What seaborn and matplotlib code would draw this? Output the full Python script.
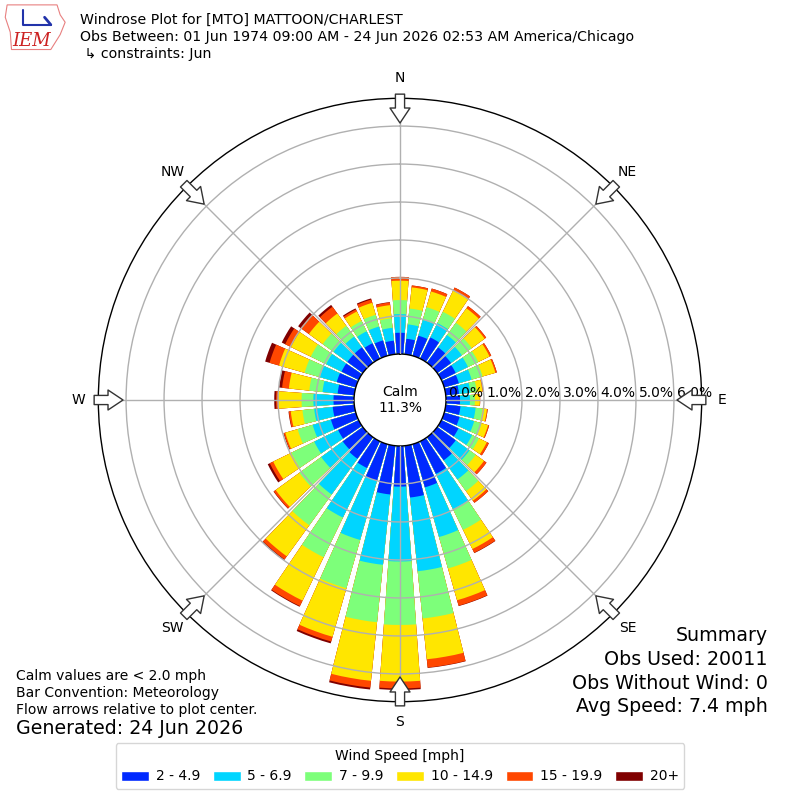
import numpy as np
import pandas as pd
import matplotlib
matplotlib.use('Agg')
import matplotlib.pyplot as plt
from matplotlib.patches import Patch, Polygon
import seaborn as sns

# direction the wind blows from (deg), one bar every 10 deg
directions = np.arange(0, 360, 10)
speed_bins = ['2 - 4.9', '5 - 6.9', '7 - 9.9', '10 - 14.9', '15 - 19.9', '20+']
# percent of observations per direction for each speed class
pct_2 = [.56, .41, .55, .62, .50, .45, .42, .40, .35, .37, .39, .42, .50, .60, .75, .95, 1.18, 1.37,
         1.07, 1.29, 1.00, .78, .70, .65, .60, .68, .57, .54, .44, .52, .50, .50, .50, .45, .42, .36]
pct_5 = [.49, .38, .43, .42, .40, .35, .36, .35, .30, .26, .40, .40, .40, .45, .62, 1.03, 1.36, 1.95,
         1.97, 1.86, 1.62, 1.45, 1.16, .70, .70, .50, .49, .53, .40, .46, .45, .45, .35, .35, .38, .34]
pct_7 = [.37, .42, .35, .33, .40, .32, .30, .30, .17, .13, .18, .20, .20, .20, .38, .61, .86, 1.25,
         1.67, 1.52, 1.32, 1.16, 1.00, .71, .67, .41, .31, .31, .35, .42, .45, .35, .35, .30, .32, .25]
pct_10 = [.51, .56, .43, .62, .47, .42, .33, .35, .15, .13, .12, .18, .23, .27, .31, .56, .87, 1.08,
          1.49, 1.55, 1.33, 1.27, 1.01, .77, .53, .34, .31, .61, .54, .70, .58, .45, .40, .28, .33, .35]
pct_15 = [.10, .05, .08, .09, .07, .05, .05, .04, .02, .01, .02, .03, .06, .08, .07, .11, .15, .22,
          .18, .18, .13, .16, .10, .06, .10, .04, .05, .06, .18, .26, .17, .27, .22, .06, .09, .07]
pct_20 = [0, 0, 0, 0, 0, 0, 0, 0, 0, 0, 0, 0, 0, 0, 0, .01, .01, .01,
          .04, .05, .05, .02, .02, .01, .06, .01, .01, .05, .08, .12, .10, .08, .06, .03, .03, .01]
calm_pct = 11.3
compass = ['N', 'NE', 'E', 'SE', 'S', 'SW', 'W', 'NW']
rlabels = ['0.0%', '1.0%', '2.0%', '3.0%', '4.0%', '5.0%', '6.0%']

df = pd.DataFrame({'dir': directions})
for name, vals in zip(speed_bins, [pct_2, pct_5, pct_7, pct_10, pct_15, pct_20]):
    df[name] = vals
df['theta'] = np.deg2rad(df['dir'])
cum = df[speed_bins].cumsum(axis=1)

colors = plt.cm.jet(np.linspace(0, 1, 7))[1:]

sns.set_style('white')
plt.rcParams.update({'text.color': 'black', 'xtick.color': 'black', 'ytick.color': 'black',
                     'axes.labelcolor': 'black'})
fig = plt.figure(figsize=(8, 8), dpi=100)
ax = fig.add_axes([0.1229, 0.1229, 0.7542, 0.7542], projection='polar')
ax.set_theta_zero_location('N')
ax.set_theta_direction(-1)

# stacked look: draw cumulative totals from the outside in
for i in range(5, -1, -1):
    sns.barplot(x=df['theta'], y=cum[speed_bins[i]], native_scale=True, orient='x',
                color=colors[i], saturation=1, width=0.82, errorbar=None,
                linewidth=0, ax=ax)

ax.set_xlabel('')
ax.set_ylabel('')
ax.set_xlim(0, 2 * np.pi)
ax.set_rorigin(-1.21)
ax.set_ylim(0, 6.73)
ax.set_yticks([1, 2, 3, 4, 5, 6])
ax.set_yticklabels([])
ax.set_xticks(np.deg2rad(np.arange(0, 360, 45)))
ax.set_xticklabels(compass, fontsize=10, color='black')
ax.tick_params(axis='x', pad=4)
ax.grid(True, color='#b0b0b0', lw=1)
ax.set_axisbelow(False)
ax.spines['polar'].set_color('black')
ax.spines['polar'].set_linewidth(1)
ax.spines['inner'].set_visible(True)
ax.spines['inner'].set_color('black')
ax.spines['inner'].set_linewidth(1)

for k, lab in enumerate(rlabels):
    ax.text(np.pi / 2, k + 0.53, lab, ha='center', va='bottom', fontsize=10, zorder=6)

for ang in np.deg2rad(np.arange(0, 360, 45)):
    ax.annotate('', xy=(ang, 6.08), xytext=(ang, 6.84), annotation_clip=False, zorder=7,
                arrowprops=dict(arrowstyle='simple,head_length=0.9,head_width=1.2,tail_width=0.55',
                                fc='white', ec='#333333', lw=1, mutation_scale=12,
                                shrinkA=0, shrinkB=0, clip_on=False))

fig.text(0.5, 0.5, 'Calm\n%.1f%%' % calm_pct, ha='center', va='center', fontsize=10)

# header
fig.text(0.1, 0.975, 'Windrose Plot for [MTO] MATTOON/CHARLEST', fontsize=10.2, va='center')
fig.text(0.1, 0.954, 'Obs Between: 01 Jun 1974 09:00 AM - 24 Jun 2026 02:53 AM America/Chicago',
         fontsize=10.2, va='center')
fig.text(0.1, 0.9325, ' \u21b3 constraints: Jun', fontsize=10.2, va='center')

# rough IEM logo
lax = fig.add_axes([0.005, 0.935, 0.078, 0.062])
lax.set_xlim(0, 1)
lax.set_ylim(0, 1)
lax.axis('off')
lax.add_patch(Polygon([[0.05, 0.95], [0.85, 0.95], [0.9, 0.75], [0.98, 0.6], [0.9, 0.35],
                       [0.8, 0.15], [0.75, 0.05], [0.12, 0.05], [0.1, 0.4], [0.02, 0.7]],
                      closed=True, fc='none', ec='#e88080', lw=0.8))
lax.plot([0.3, 0.3, 0.75], [0.85, 0.55, 0.55], color='#2233aa', lw=1.5)
lax.plot([0.65, 0.75], [0.7, 0.55], color='#2233aa', lw=2)
lax.text(0.45, 0.22, 'IEM', color='#cc2222', fontsize=13, family='serif', style='italic',
         ha='center', va='center')

# footer text
fig.text(0.02, 0.155, 'Calm values are < 2.0 mph', fontsize=10, va='center')
fig.text(0.02, 0.134, 'Bar Convention: Meteorology', fontsize=10, va='center')
fig.text(0.02, 0.1125, 'Flow arrows relative to plot center.', fontsize=10, va='center')
fig.text(0.02, 0.089, 'Generated: 24 Jun 2026', fontsize=13.7, va='center')

fig.text(0.96, 0.206, 'Summary', fontsize=13.7, ha='right', va='center')
fig.text(0.96, 0.176, 'Obs Used: 20011', fontsize=13.7, ha='right', va='center')
fig.text(0.96, 0.146, 'Obs Without Wind: 0', fontsize=13.7, ha='right', va='center')
fig.text(0.96, 0.1175, 'Avg Speed: 7.4 mph', fontsize=13.7, ha='right', va='center')

handles = [Patch(facecolor=colors[i], label=speed_bins[i]) for i in range(6)]
fig.legend(handles=handles, loc='lower center', bbox_to_anchor=(0.5, 0.005), ncol=6,
           title='Wind Speed [mph]', fontsize=10, title_fontsize=10, handlelength=2.0,
           handletextpad=0.5, columnspacing=0.9, frameon=True)

fig.savefig('out.png', dpi=100)
